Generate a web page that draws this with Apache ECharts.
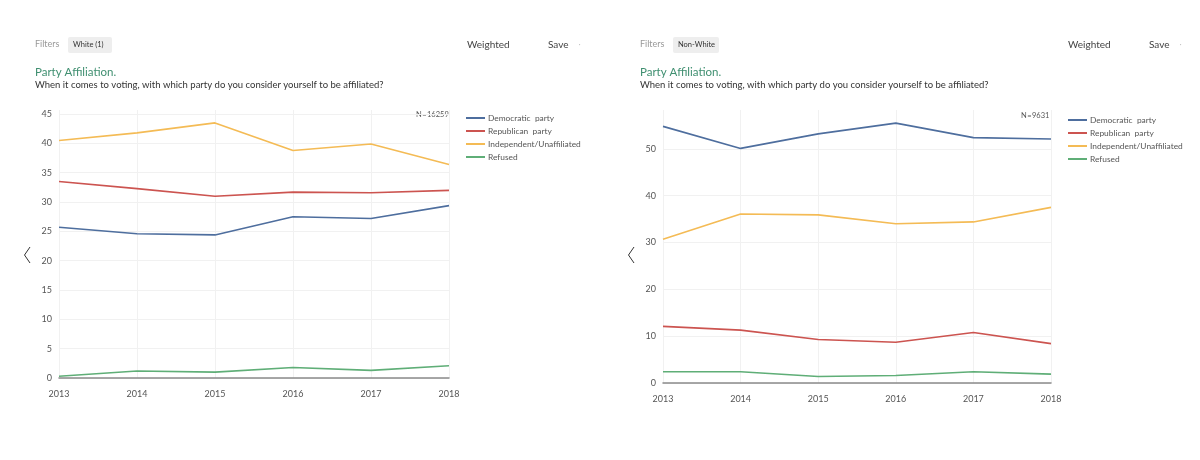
<!DOCTYPE html>
<html>
<head>
<meta charset="utf-8">
<script src="https://cdn.jsdelivr.net/npm/echarts@6/dist/echarts.min.js"></script>
<style>
html,body{margin:0;padding:0;background:#fff;}
#c{width:1200px;height:460px;}
</style>
</head>
<body>
<div id="c"></div>
<script>
var years = ['2013','2014','2015','2016','2017','2018'];
var seriesNames = ['Democratic  party','Republican  party','Independent/Unaffiliated','Refused'];
var seriesColors = ['#4e6e9e','#cc5450','#f4bb55','#5fae77'];

var whiteDem = [25.7,24.6,24.4,27.5,27.2,29.4];
var whiteRep = [33.5,32.3,31.0,31.7,31.6,32.0];
var whiteInd = [40.5,41.8,43.5,38.8,39.9,36.4];
var whiteRef = [0.3,1.2,1.0,1.8,1.3,2.1];

var nonWhiteDem = [54.8,50.1,53.2,55.5,52.4,52.1];
var nonWhiteRep = [12.1,11.3,9.3,8.7,10.8,8.4];
var nonWhiteInd = [30.7,36.1,35.9,34.0,34.4,37.5];
var nonWhiteRef = [2.4,2.4,1.4,1.6,2.4,1.9];

var leftInterval = 5, leftMax = 45.7;
var rightInterval = 10, rightMax = 58.3;

var FONT = 'Lato, "Open Sans", sans-serif';

var chart = echarts.init(document.getElementById('c'));

function mkSeries(data, idx, axisIdx){
  return {
    name: seriesNames[idx], type: 'line', data: data,
    xAxisIndex: axisIdx, yAxisIndex: axisIdx,
    symbol: 'none', smooth: false,
    lineStyle: {width: 1.6, color: seriesColors[idx]},
    itemStyle: {color: seriesColors[idx]},
    z: idx === 3 ? 5 : 3
  };
}

function xAxisCfg(gi){
  return {
    type: 'category', gridIndex: gi, data: years, boundaryGap: false,
    axisLine: {show: true, lineStyle: {color: '#8a8a8a', width: 1.5}},
    axisTick: {show: false},
    axisLabel: {color: '#555', fontSize: 9, fontFamily: FONT, margin: 12},
    splitLine: {show: true, lineStyle: {color: '#f1f1f1', width: 1}}
  };
}
function yAxisCfg(gi, interval, max){
  return {
    type: 'value', gridIndex: gi, min: 0, max: max, interval: interval,
    axisLine: {show: false}, axisTick: {show: false},
    axisLabel: {color: '#555', fontSize: 9, fontFamily: FONT, margin: 7,
      showMaxLabel: false},
    splitLine: {show: true, showMaxLine: false, lineStyle: {color: '#f1f1f1', width: 1}}
  };
}

function legendCfg(left, top){
  return {
    data: seriesNames, orient: 'vertical', left: left, top: top,
    icon: 'rect', itemWidth: 19, itemHeight: 2, itemGap: 3,
    textStyle: {color: '#555', fontSize: 8.4, fontFamily: FONT, lineHeight: 10, padding: [0,0,0,-2]},
    selectedMode: false
  };
}

function txt(x, y, s, size, color, extra){
  var o = {type: 'text', left: x, top: y, silent: true,
    style: {text: s, fontSize: size, fill: color, fontFamily: FONT}};
  if (extra) for (var k in extra) o.style[k] = extra[k];
  return o;
}

function header(x0, tag, tagW, wX, sX){
  return [
    txt(x0, 40, 'Filters', 9, '#999'),
    {type: 'rect', left: x0 + 33, top: 37, shape: {width: tagW, height: 16, r: 2},
      style: {fill: '#eeeeee'}, silent: true},
    txt(x0 + 38, 41, tag, 7.5, '#333'),
    txt(wX, 40, 'Weighted', 10, '#444'),
    txt(sX, 40, 'Save', 10, '#444'),
    {type: 'circle', left: sX + 31, top: 44, shape: {r: 0.6}, style: {fill: '#bbb'}, silent: true},
    txt(x0, 66, 'Party Affiliation.', 11.5, '#3f8f70'),
    txt(x0, 80, 'When it comes to voting, with which party do you consider yourself to be affiliated?', 9.5, '#333')
  ];
}

var graphics = [].concat(
  header(35, 'White (1)', 44, 467, 548),
  header(640, 'Non-White', 46, 1068, 1149),
  [
    {type: 'polyline', silent: true, shape: {points: [[30,247],[24.5,255],[30,263]]},
      style: {stroke: '#333', lineWidth: 1, fill: null}},
    {type: 'polyline', silent: true, shape: {points: [[634,247],[628.5,255],[634,263]]},
      style: {stroke: '#333', lineWidth: 1, fill: null}},
    txt(416, 111, 'N\u200a=\u200a16259', 7.5, '#555'),
    txt(1021, 112, 'N\u200a=\u200a9631', 7.5, '#555')
  ]
);

chart.setOption({
  animation: false,
  textStyle: {fontFamily: FONT},
  grid: [
    {left: 59, top: 110, width: 390, height: 268},
    {left: 663, top: 110, width: 388, height: 273}
  ],
  legend: [legendCfg(461, 108), legendCfg(1063, 110)],
  xAxis: [xAxisCfg(0), xAxisCfg(1)],
  yAxis: [yAxisCfg(0, leftInterval, leftMax), yAxisCfg(1, rightInterval, rightMax)],
  series: [
    mkSeries(whiteDem, 0, 0), mkSeries(whiteRep, 1, 0), mkSeries(whiteInd, 2, 0), mkSeries(whiteRef, 3, 0),
    mkSeries(nonWhiteDem, 0, 1), mkSeries(nonWhiteRep, 1, 1), mkSeries(nonWhiteInd, 2, 1), mkSeries(nonWhiteRef, 3, 1)
  ],
  graphic: graphics
});
</script>
</body>
</html>
